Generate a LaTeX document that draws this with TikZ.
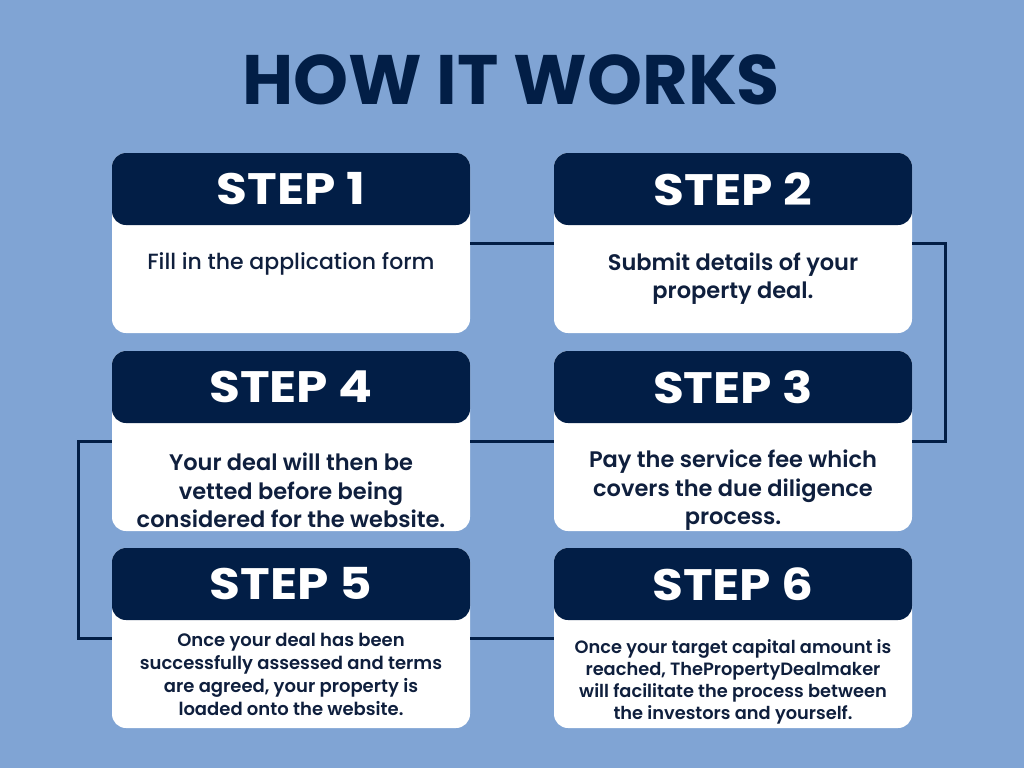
\documentclass[tikz,border=0pt]{standalone}
\usepackage{fontspec}
\setmainfont{Poppins}
\newfontfamily\semib{Poppins SemiBold}
\newfontfamily\medium{Poppins Medium}
\definecolor{bgblue}{HTML}{80A4D4}
\definecolor{navy}{HTML}{021E46}
\definecolor{ink}{HTML}{0F1F3D}
\tikzset{
  card/.style={fill=white, rounded corners=14pt, minimum width=358pt, minimum height=180pt, inner sep=0pt},
  head/.style={fill=navy, rounded corners=14pt, minimum width=358pt, minimum height=72pt, inner sep=0pt,
    text=white, font=\bfseries\fontsize{44}{44}\selectfont},
  bodytxt/.style={text=ink, align=center, inner sep=0pt},
  conn/.style={draw=navy, line width=3pt},
  titletxt/.style={text=navy, font=\bfseries\fontsize{70}{70}\selectfont, inner sep=0pt}
}
\newcommand{\stepw}[1]{\scalebox{1.14}[1]{#1}}
\begin{document}
\begin{tikzpicture}[x=1pt,y=-1pt]
\fill[bgblue] (0,0) rectangle (1024,768);
\useasboundingbox (0,0) rectangle (1024,768);
\node[titletxt] (title) at (511,80) {HOW IT WORKS};
% cards
\node[card] (c1) at (291,243) {};
\node[card] (c2) at (733,243) {};
\node[card] (c4) at (291,441) {};
\node[card] (c3) at (733,441) {};
\node[card] (c5) at (291,638) {};
\node[card] (c6) at (733,638) {};
% connectors
\draw[conn] (c1.east) -- (c2.west);
\draw[conn] (c2.east) -- ++(33,0) |- (c3.east);
\draw[conn] (c4.east) -- (c3.west);
\draw[conn] (c4.west) -- ++(-33,0) |- (c5.west);
\draw[conn] (c5.east) -- (c6.west);
% headers
\node[head] (h1) at (291,189) {\stepw{STEP 1}};
\node[head] (h2) at (733,189) {\stepw{STEP 2}};
\node[head] (h4) at (291,387) {\stepw{STEP 4}};
\node[head] (h3) at (733,387) {\stepw{STEP 3}};
\node[head] (h5) at (291,584) {\stepw{STEP 5}};
\node[head] (h6) at (733,584) {\stepw{STEP 6}};
% body texts
\node[bodytxt, font=\medium\fontsize{22}{28.5}\selectfont] (t1) at (291,263.5) {Fill in the application form};
\node[bodytxt, font=\semib\fontsize{22.5}{28.5}\selectfont] (t2) at (733,278.5) {Submit details of your\\property deal.};
\node[bodytxt, font=\semib\fontsize{22.5}{28.5}\selectfont] (t4) at (291,490.5) {Your deal will then be\\vetted before being\\considered for the website.};
\node[bodytxt, font=\semib\fontsize{22.5}{28.5}\selectfont] (t3) at (733,490.5) {Pay the service fee which\\covers the due diligence\\process.};
\node[bodytxt, font=\semib\fontsize{18}{23}\selectfont] (t5) at (291,674.5) {Once your deal has been\\successfully assessed and terms\\are agreed, your property is\\loaded onto the website.};
\node[bodytxt, font=\semib\fontsize{17.8}{22}\selectfont] (t6) at (733,681.5) {Once your target capital amount is\\reached, ThePropertyDealmaker\\will facilitate the process between\\the investors and yourself.};
\end{tikzpicture}
\end{document}
